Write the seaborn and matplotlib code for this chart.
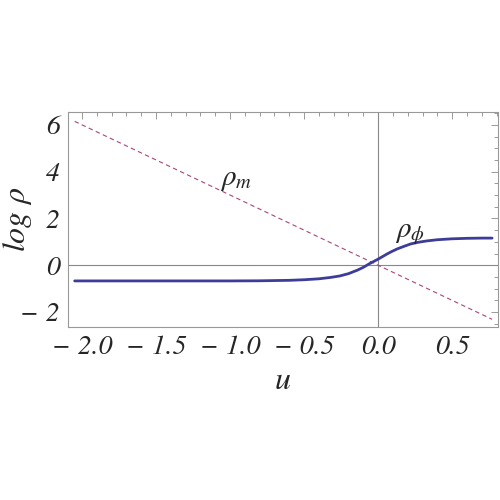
import numpy as np
import pandas as pd
import matplotlib
matplotlib.use("Agg")
import matplotlib.pyplot as plt
import seaborn as sns
from matplotlib.ticker import MultipleLocator

# values
u_m = [-2.05, 0.77]
rho_m = [6.15, -2.31]

u_phi = [-2.05, -1.5, -1.0, -0.8, -0.6, -0.5, -0.4, -0.32, -0.26, -0.2, -0.14, -0.1,
         -0.06, -0.03, 0.0, 0.03, 0.06, 0.09, 0.13, 0.18, 0.22, 0.27, 0.33, 0.4, 0.5,
         0.6, 0.7, 0.77]
rho_phi = [-0.67, -0.67, -0.67, -0.665, -0.645, -0.62, -0.58, -0.52, -0.46, -0.36, -0.21,
           -0.09, 0.06, 0.16, 0.26, 0.37, 0.48, 0.58, 0.70, 0.82, 0.91, 0.98, 1.04,
           1.09, 1.13, 1.15, 1.16, 1.16]

df_m = pd.DataFrame({"u": u_m, "rho": rho_m})
df_phi = pd.DataFrame({"u": u_phi, "rho": rho_phi})

sns.set_style("white")
plt.rcParams["font.family"] = ["STIXGeneral", "DejaVu Serif"]
plt.rcParams["font.style"] = "italic"
plt.rcParams["mathtext.fontset"] = "stix"

fig = plt.figure(figsize=(5, 5), dpi=100)
ax = fig.add_axes([0.136, 0.346, 0.86, 0.43])

ax.axhline(0, color="#888888", lw=0.8, zorder=1)
ax.axvline(0, color="#888888", lw=0.8, zorder=1)

sns.lineplot(data=df_m, x="u", y="rho", ax=ax, color="#a8467a", lw=0.8,
             linestyle=(0, (4, 3)), zorder=2)
sns.lineplot(data=df_phi, x="u", y="rho", ax=ax, color="#3d3d99", lw=2.0, zorder=3)

ax.set_xlim(-2.095, 0.81)
ax.set_ylim(-2.64, 6.55)
ax.xaxis.set_major_locator(MultipleLocator(0.5))
ax.xaxis.set_minor_locator(MultipleLocator(0.1))
ax.yaxis.set_major_locator(MultipleLocator(2))
ax.yaxis.set_minor_locator(MultipleLocator(0.5))
ax.xaxis.set_major_formatter(plt.FuncFormatter(lambda v, p: ("%.1f" % v).replace("-", "\u2212 ")))
ax.yaxis.set_major_formatter(plt.FuncFormatter(lambda v, p: ("%d" % v).replace("-", "\u2212 ")))

for s in ax.spines.values():
    s.set_color("#999999")
    s.set_linewidth(0.8)
ax.tick_params(which="both", direction="in", top=True, right=True, color="#999999",
               width=0.7)
ax.tick_params(which="major", length=5, labelsize=20, pad=6)
ax.tick_params(which="minor", length=3)

ax.set_xlabel("u", fontsize=23)
ax.set_ylabel(r"log $\rho$", fontsize=23)
ax.xaxis.set_label_coords(0.5, -0.185)
ax.yaxis.set_label_coords(-0.08, 0.5)

ax.text(-0.96, 3.66, r"$\rho_m$", fontsize=21, ha="center", va="center")
ax.text(0.216, 1.36, r"$\rho_\phi$", fontsize=21, ha="center", va="center")

fig.savefig("out.png", dpi=100)
